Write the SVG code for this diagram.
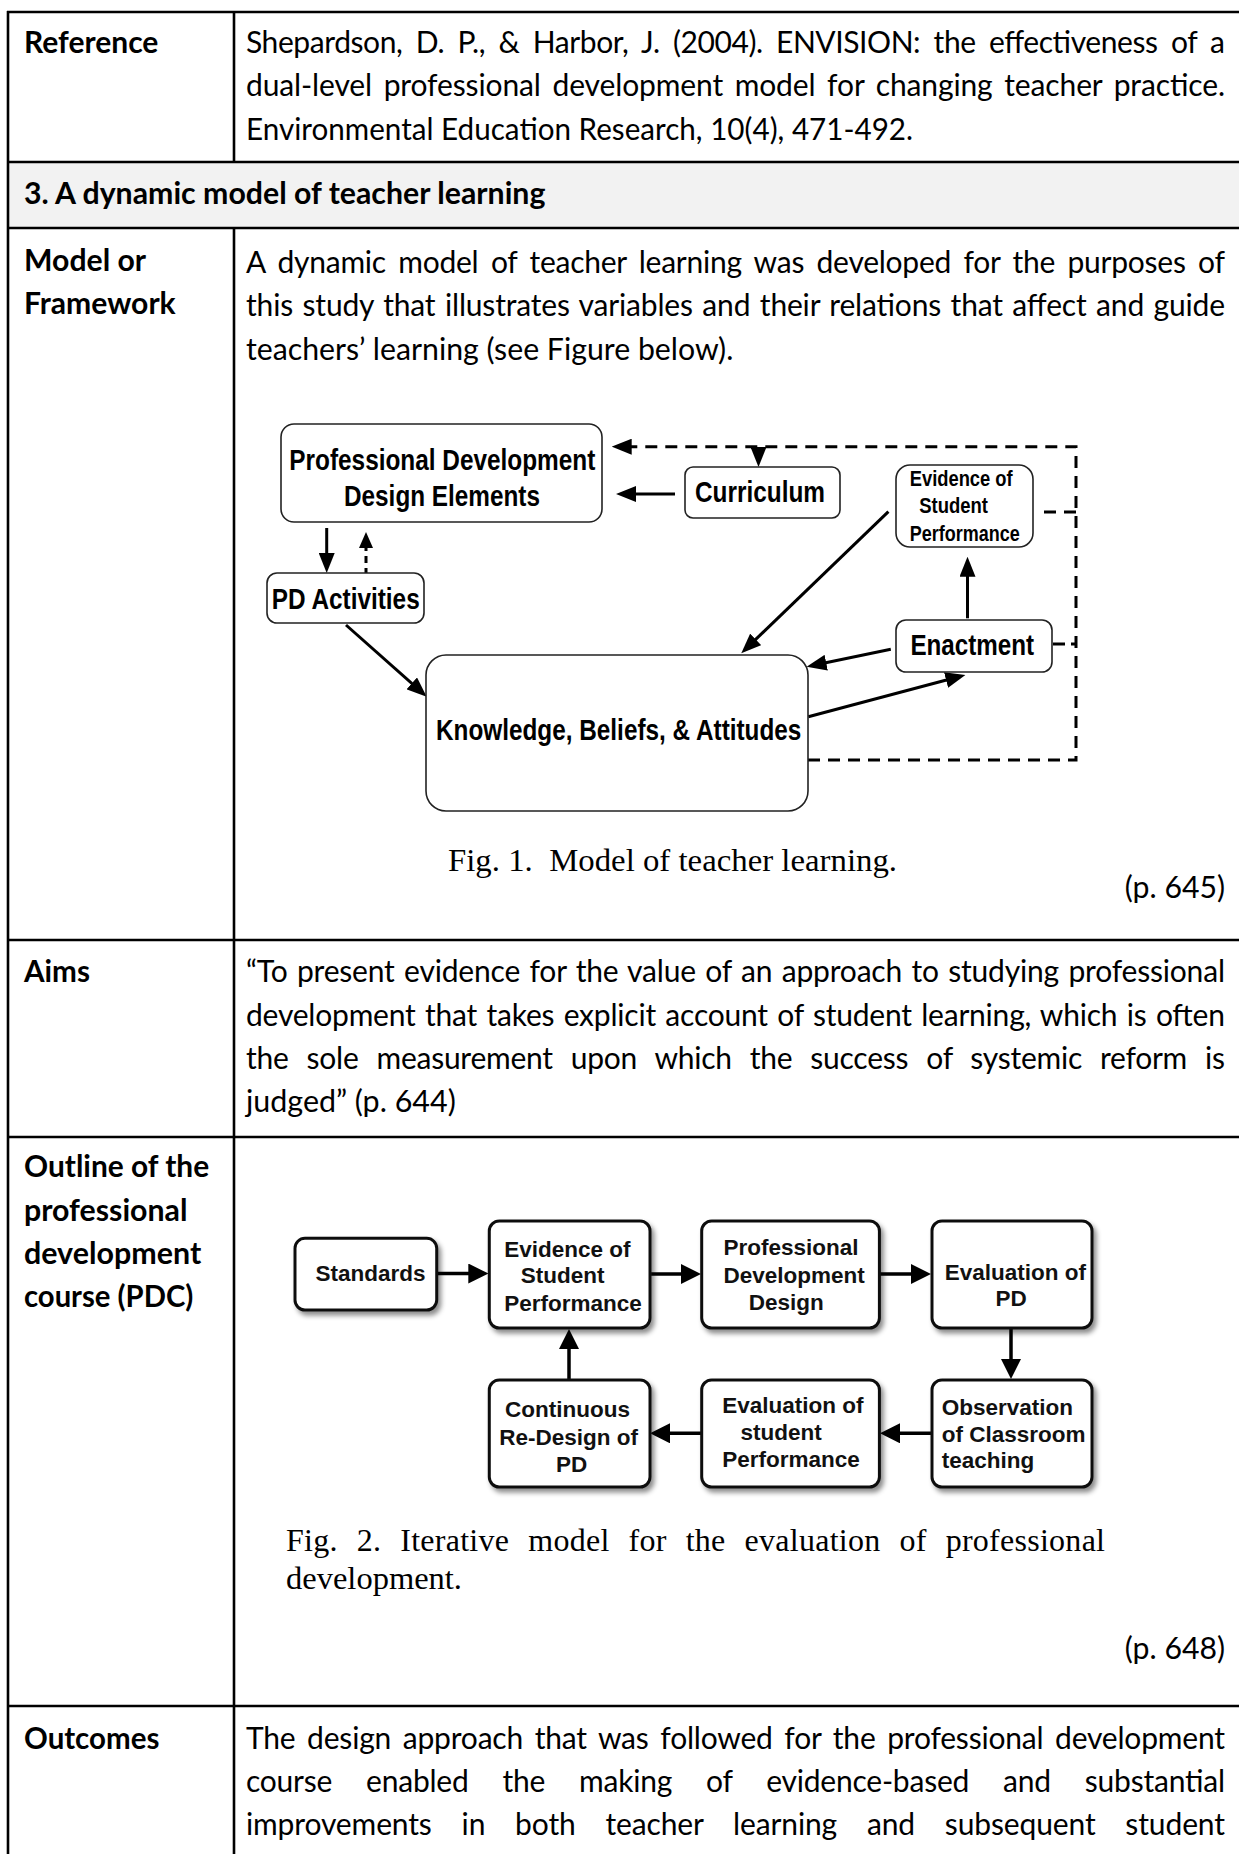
<svg xmlns="http://www.w3.org/2000/svg" width="1239" height="1854" viewBox="0 0 1239 1854">
<defs>
<style>
.t{font-family:Lato,"Noto Sans",sans-serif;font-size:30px;fill:#000}
.b{font-family:Lato,"Noto Sans",sans-serif;font-size:30px;font-weight:bold;fill:#000}
.cap{font-family:"Liberation Serif","Times New Roman",serif;font-size:32px;fill:#000}
.f1{font-family:"Liberation Sans",Arial,sans-serif;font-size:29.5px;font-weight:bold;fill:#000}
.f1s{font-family:"Liberation Sans",Arial,sans-serif;font-size:22px;font-weight:bold;fill:#000}
.f2{font-family:"Liberation Sans",Arial,sans-serif;font-size:22.5px;font-weight:bold;fill:#111}
.grid{stroke:#000;stroke-width:2.6;fill:none}
.n1{fill:#fff;stroke:#222;stroke-width:1.6}
.n2{fill:#fff;stroke:#111;stroke-width:3}
.c1{fill:none;stroke:#000;stroke-width:3}
.d1{fill:none;stroke:#000;stroke-width:3;stroke-dasharray:12 8}
.d2{fill:none;stroke:#000;stroke-width:3;stroke-dasharray:7 5}
.c2{fill:none;stroke:#000;stroke-width:3.5}
</style>
<marker id="m1" markerUnits="userSpaceOnUse" markerWidth="20" markerHeight="16" refX="14" refY="8" orient="auto"><path d="M0,0 L20,8 L0,16 z" fill="#000"/></marker>
<marker id="m1s" markerUnits="userSpaceOnUse" markerWidth="16" markerHeight="14" refX="10" refY="7" orient="auto"><path d="M0,0 L16,7 L0,14 z" fill="#000"/></marker>
<marker id="m2" markerUnits="userSpaceOnUse" markerWidth="20" markerHeight="20" refX="14" refY="10" orient="auto"><path d="M0,0 L20,10 L0,20 z" fill="#000"/></marker>
<filter id="sh" x="-10%" y="-10%" width="125%" height="130%"><feDropShadow dx="3" dy="4" stdDeviation="2.5" flood-color="#000" flood-opacity="0.45"/></filter>
</defs>
<rect x="0" y="0" width="1239" height="1854" fill="#fff"/>

<g id="table">
<rect x="8" y="162" width="1231" height="66" fill="#f2f2f2"/>
<path class="grid" d="M7,12 H1239 M7,162 H1239 M7,228 H1239 M7,940 H1239 M7,1137 H1239 M7,1706 H1239"/>
<path class="grid" d="M8,11 V1854 M234,11 V162 M234,228 V1854"/>
</g>

<g id="row-reference">
<text class="b" x="24" y="53" textLength="134.4" lengthAdjust="spacingAndGlyphs">Reference</text>
<text class="t" x="246" y="53" textLength="979" lengthAdjust="spacing" word-spacing="6.1">Shepardson, D. P., &amp; Harbor, J. (2004). ENVISION: the effectiveness of a</text>
<text class="t" x="246" y="96.3" textLength="979" lengthAdjust="spacing" word-spacing="4.1">dual-level professional development model for changing teacher practice.</text>
<text class="t" x="246" y="139.6" textLength="667" lengthAdjust="spacingAndGlyphs">Environmental Education Research, 10(4), 471-492.</text>
</g>

<g id="row-heading">
<text class="b" x="24" y="204" textLength="521.4" lengthAdjust="spacingAndGlyphs">3. A dynamic model of teacher learning</text>
</g>

<g id="row-model">
<text class="b" x="24" y="271" textLength="122.1" lengthAdjust="spacingAndGlyphs">Model or</text>
<text class="b" x="24" y="314.3" textLength="151.7" lengthAdjust="spacingAndGlyphs">Framework</text>
<text class="t" x="246" y="273" textLength="979" lengthAdjust="spacing" word-spacing="5">A dynamic model of teacher learning was developed for the purposes of</text>
<text class="t" x="246" y="316.3" textLength="979" lengthAdjust="spacing" word-spacing="2">this study that illustrates variables and their relations that affect and guide</text>
<text class="t" x="246" y="359.6" textLength="487.3" lengthAdjust="spacingAndGlyphs">teachers’ learning (see Figure below).</text>
</g>

<g id="fig1">
<g id="connectors-fig1">
<path class="c1" d="M675,494 H622" marker-end="url(#m1)"/>
<path class="c1" d="M326.7,528 V567" marker-end="url(#m1)"/>
<path class="d2" d="M366,575 V538" marker-end="url(#m1s)"/>
<path class="c1" d="M346,625 L422.2,692.7" marker-end="url(#m1)"/>
<path class="c1" d="M888.4,511.7 L745.6,649.1" marker-end="url(#m1)"/>
<path class="c1" d="M967.5,618.3 V562.7" marker-end="url(#m1)"/>
<path class="c1" d="M890.8,649.3 L812.5,665.5" marker-end="url(#m1)"/>
<path class="c1" d="M808.3,716.7 L959.6,676.5" marker-end="url(#m1)"/>
<path class="d1" d="M808,760 H1076 V446.7 H617.7" marker-end="url(#m1)"/>
<path class="c1" d="M758.5,447 V461" marker-end="url(#m1)"/>
<path class="d1" d="M1044,512 H1076"/>
<path class="d1" d="M1053,644 H1065 M1071,644 H1076"/>
</g>
<g id="n-pdde">
<rect class="n1" x="281" y="424" width="321" height="98" rx="13"/>
<text class="f1" x="289.3" y="470" textLength="306" lengthAdjust="spacingAndGlyphs">Professional Development</text>
<text class="f1" x="344" y="506" textLength="196" lengthAdjust="spacingAndGlyphs">Design Elements</text>
</g>
<g id="n-curriculum">
<rect class="n1" x="685" y="467" width="155" height="51" rx="8"/>
<text class="f1" x="695" y="502" textLength="130" lengthAdjust="spacingAndGlyphs">Curriculum</text>
</g>
<g id="n-evidence1">
<rect class="n1" x="896" y="465" width="137" height="82" rx="14"/>
<text class="f1s" x="909.7" y="486" textLength="103" lengthAdjust="spacingAndGlyphs">Evidence of</text>
<text class="f1s" x="919.3" y="513" textLength="68.7" lengthAdjust="spacingAndGlyphs">Student</text>
<text class="f1s" x="909.7" y="541" textLength="110" lengthAdjust="spacingAndGlyphs">Performance</text>
</g>
<g id="n-pdact">
<rect class="n1" x="267" y="573" width="157" height="50" rx="10"/>
<text class="f1" x="271.7" y="609" textLength="148" lengthAdjust="spacingAndGlyphs">PD Activities</text>
</g>
<g id="n-enactment">
<rect class="n1" x="896" y="620" width="156" height="52" rx="10"/>
<text class="f1" x="910.4" y="655" textLength="123.7" lengthAdjust="spacingAndGlyphs">Enactment</text>
</g>
<g id="n-kba">
<rect class="n1" x="426" y="655" width="382" height="156" rx="20"/>
<text class="f1" x="436" y="740" textLength="365.4" lengthAdjust="spacingAndGlyphs">Knowledge, Beliefs, &amp; Attitudes</text>
</g>
<text class="cap" x="448" y="871" textLength="449" lengthAdjust="spacingAndGlyphs" style="white-space:pre">Fig. 1.  Model of teacher learning.</text>
</g>
<text class="t" x="1124.8" y="898" textLength="100.2" lengthAdjust="spacingAndGlyphs">(p. 645)</text>

<g id="row-aims">
<text class="b" x="24" y="982.3" textLength="66" lengthAdjust="spacingAndGlyphs">Aims</text>
<text class="t" x="246" y="982.3" textLength="979" lengthAdjust="spacing" word-spacing="1.9">“To present evidence for the value of an approach to studying professional</text>
<text class="t" x="246" y="1025.6" textLength="979" lengthAdjust="spacing" word-spacing="1.9">development that takes explicit account of student learning, which is often</text>
<text class="t" x="246" y="1068.9" textLength="979" lengthAdjust="spacing" word-spacing="10.6">the sole measurement upon which the success of systemic reform is</text>
<text class="t" x="246" y="1112.2" textLength="209.8" lengthAdjust="spacingAndGlyphs">judged” (p. 644)</text>
</g>

<g id="row-outline">
<text class="b" x="24" y="1177.4" textLength="185.1" lengthAdjust="spacingAndGlyphs">Outline of the</text>
<text class="b" x="24" y="1220.7" textLength="163.5" lengthAdjust="spacingAndGlyphs">professional</text>
<text class="b" x="24" y="1264" textLength="177.2" lengthAdjust="spacingAndGlyphs">development</text>
<text class="b" x="24" y="1307.3" textLength="169.3" lengthAdjust="spacingAndGlyphs">course (PDC)</text>
</g>

<g id="fig2">
<g id="connectors-fig2">
<path class="c2" d="M436.7,1273.5 H482.3" marker-end="url(#m2)"/>
<path class="c2" d="M650,1274 H695" marker-end="url(#m2)"/>
<path class="c2" d="M879.4,1274 H925" marker-end="url(#m2)"/>
<path class="c2" d="M1011,1328 V1373" marker-end="url(#m2)"/>
<path class="c2" d="M932,1433.3 H886" marker-end="url(#m2)"/>
<path class="c2" d="M701.7,1433.3 H656" marker-end="url(#m2)"/>
<path class="c2" d="M569,1380 V1335" marker-end="url(#m2)"/>
</g>
<g id="n-standards">
<rect class="n2" x="295" y="1238.3" width="141.7" height="71.7" rx="10" filter="url(#sh)"/>
<text class="f2" x="370.5" y="1281" text-anchor="middle">Standards</text>
</g>
<g id="n-evidence2">
<rect class="n2" x="489.3" y="1221" width="160.7" height="107" rx="10" filter="url(#sh)"/>
<text class="f2" x="504.3" y="1256.7">Evidence of</text>
<text class="f2" x="520.7" y="1283.3">Student</text>
<text class="f2" x="504.3" y="1310.7">Performance</text>
</g>
<g id="n-pddesign">
<rect class="n2" x="701.7" y="1221" width="177.7" height="107" rx="10" filter="url(#sh)"/>
<text class="f2" x="723.4" y="1255">Professional</text>
<text class="f2" x="723.4" y="1282.7">Development</text>
<text class="f2" x="748.8" y="1310">Design</text>
</g>
<g id="n-evalpd">
<rect class="n2" x="932" y="1221" width="160" height="107" rx="10" filter="url(#sh)"/>
<text class="f2" x="944.8" y="1280">Evaluation of</text>
<text class="f2" x="995.5" y="1306">PD</text>
</g>
<g id="n-observation">
<rect class="n2" x="932" y="1380" width="160" height="107" rx="10" filter="url(#sh)"/>
<text class="f2" x="941.7" y="1415">Observation</text>
<text class="f2" x="941.7" y="1441.7">of Classroom</text>
<text class="f2" x="941.7" y="1468">teaching</text>
</g>
<g id="n-evalstudent">
<rect class="n2" x="701.7" y="1380" width="177.7" height="107" rx="10" filter="url(#sh)"/>
<text class="f2" x="722.3" y="1413.3">Evaluation of</text>
<text class="f2" x="740.6" y="1440">student</text>
<text class="f2" x="722.3" y="1466.7">Performance</text>
</g>
<g id="n-continuous">
<rect class="n2" x="489.3" y="1380" width="160.7" height="107" rx="10" filter="url(#sh)"/>
<text class="f2" x="505" y="1417.3">Continuous</text>
<text class="f2" x="499.3" y="1445">Re-Design of</text>
<text class="f2" x="556" y="1471.7">PD</text>
</g>
<text class="cap" x="286" y="1551" textLength="819" lengthAdjust="spacing" word-spacing="10.7">Fig. 2. Iterative model for the evaluation of professional</text>
<text class="cap" x="286" y="1589" textLength="176" lengthAdjust="spacingAndGlyphs">development.</text>
</g>
<text class="t" x="1124.8" y="1659" textLength="100.2" lengthAdjust="spacingAndGlyphs">(p. 648)</text>

<g id="row-outcomes">
<text class="b" x="24" y="1748.5" textLength="135.4" lengthAdjust="spacingAndGlyphs">Outcomes</text>
<text class="t" x="246" y="1748.5" textLength="979" lengthAdjust="spacing" word-spacing="4.2">The design approach that was followed for the professional development</text>
<text class="t" x="246" y="1791.8" textLength="979" lengthAdjust="spacing" word-spacing="26.5">course enabled the making of evidence-based and substantial</text>
<text class="t" x="246" y="1835.1" textLength="979" lengthAdjust="spacing" word-spacing="22.3">improvements in both teacher learning and subsequent student</text>
</g>
</svg>
